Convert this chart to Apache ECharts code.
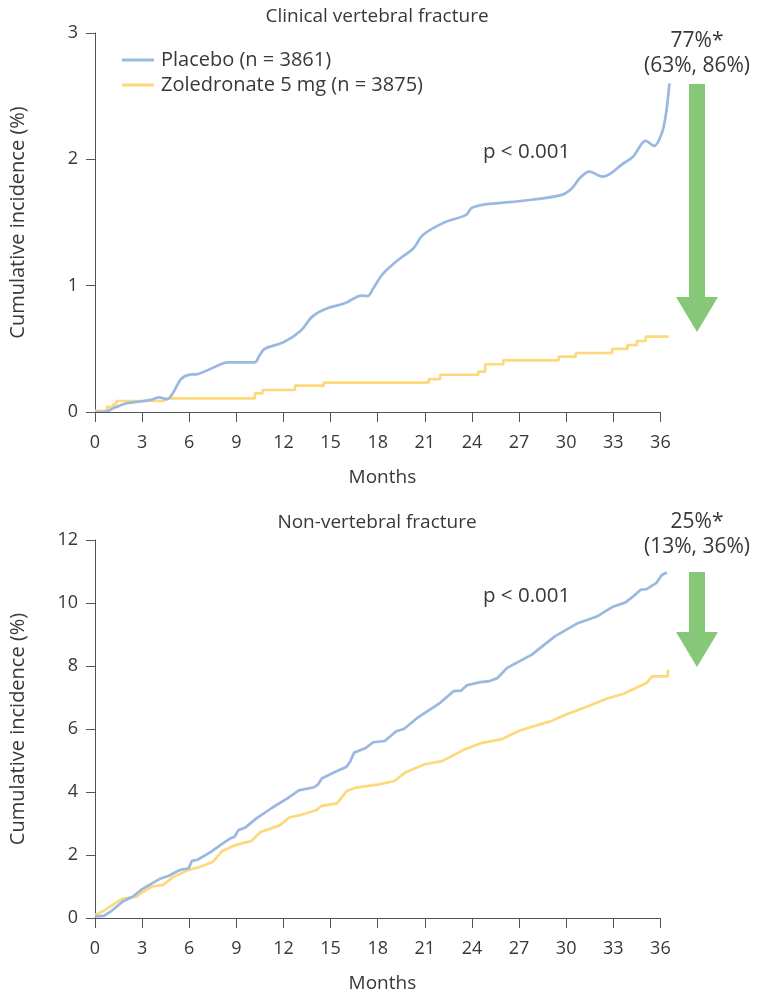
<!DOCTYPE html>
<html><head><meta charset="utf-8">
<script src="https://cdn.jsdelivr.net/npm/echarts@6/dist/echarts.min.js"></script>
<style>html,body{margin:0;padding:0;background:#fff}#c{width:757px;height:994px}</style>
</head><body><div id="c"></div>
<script>
// ---- Data (months, cumulative incidence %) ----
const xTicks = [0,3,6,9,12,15,18,21,24,27,30,33,36];
const vertPlaceboX = [0,0.57,1.3,2.03,3.0,3.61,4.1,4.58,4.95,5.48,6.04,6.53,7.38,8.48,10.18,10.43,10.79,12.0,13.1,13.83,14.68,15.9,17.0,17.36,17.72,18.33,19.3,20.28,20.88,22.22,23.63,23.93,24.17,24.65,27.82,29.77,30.37,30.86,31.47,32.32,33.66,34.27,35.07,35.6,36.09,36.33,36.58];
const vertPlaceboY = [0,0.0,0.037,0.069,0.085,0.098,0.116,0.10,0.148,0.261,0.296,0.30,0.343,0.393,0.393,0.438,0.499,0.552,0.644,0.755,0.816,0.86,0.921,0.918,0.979,1.093,1.203,1.296,1.401,1.499,1.56,1.61,1.625,1.64,1.68,1.721,1.771,1.85,1.903,1.863,1.969,2.022,2.146,2.106,2.206,2.338,2.602];
const vertZolX = [0,0.76,1.18,1.37,4.4,10.18,10.67,12.73,14.56,21.25,21.98,24.41,24.85,26.0,29.52,30.62,32.93,33.9,34.5,35.07,36.53];
const vertZolY = [0.01,0.04,0.063,0.087,0.108,0.148,0.174,0.208,0.232,0.261,0.295,0.319,0.378,0.409,0.438,0.467,0.499,0.530,0.562,0.597,0.597];
const nonvPlaceboX = [0,0.57,1.06,1.79,2.4,3.0,4.1,4.7,5.44,5.97,6.17,6.53,7.38,8.23,8.6,8.89,9.13,9.57,10.3,11.28,12.25,12.98,13.95,14.2,14.44,15.17,16.02,16.26,16.5,17.24,17.72,18.45,19.18,19.67,20.52,21.98,22.83,23.32,23.68,24.53,25.14,25.63,26.24,27.82,29.28,30.74,31.95,32.93,33.78,34.27,34.75,35.12,35.73,36.09,36.41];
const nonvPlaceboY = [0.053,0.07,0.23,0.53,0.675,0.918,1.235,1.34,1.53,1.58,1.815,1.85,2.1,2.4,2.52,2.58,2.79,2.87,3.17,3.5,3.8,4.05,4.15,4.24,4.43,4.61,4.8,4.98,5.25,5.4,5.58,5.62,5.93,6.0,6.35,6.83,7.2,7.22,7.39,7.49,7.52,7.62,7.94,8.36,8.94,9.36,9.57,9.87,10.02,10.21,10.42,10.44,10.63,10.89,10.97];
const nonvZolX = [0,0.57,1.3,1.79,2.64,3.0,3.61,4.34,4.95,5.92,6.65,7.5,8.11,8.84,9.33,9.94,10.55,11.76,12.37,13.1,14.07,14.44,15.41,16.02,16.63,18.09,19.06,19.79,21.0,22.1,23.44,24.65,25.87,27.09,29.03,30.0,31.47,32.56,33.66,35.12,35.48,36.45,36.5];
const nonvZolY = [0.095,0.23,0.475,0.62,0.68,0.81,1.0,1.05,1.29,1.52,1.62,1.78,2.13,2.29,2.37,2.44,2.73,2.94,3.19,3.27,3.42,3.56,3.64,4.03,4.14,4.24,4.35,4.63,4.88,4.98,5.33,5.56,5.67,5.96,6.25,6.46,6.74,6.96,7.12,7.46,7.67,7.67,7.88];
const seriesNames = ['Placebo (n = 3861)', 'Zoledronate 5 mg (n = 3875)'];
const titles = ['Clinical vertebral fracture', 'Non-vertebral fracture'];
const pTexts = ['p < 0.001', 'p < 0.001'];
const effects = [['77%*', '(63%, 86%)'], ['25%*', '(13%, 36%)']];

const zip = (xs, ys) => xs.map((x, i) => [x, ys[i]]);
const FONT = 'Open Sans';
const BLUE = '#9bb8e2', YELLOW = '#fdd97c', GREEN = '#86c878', TXT = '#383838', AX = '#555';
const X_LAST = xTicks[xTicks.length - 1];
const X_EXT = 36.6; // curves run slightly past the last tick

const chart = echarts.init(document.getElementById('c'), null, {renderer: 'canvas'});

function xAx(gi) {
  return {gridIndex: gi, type: 'value', min: 0, max: X_EXT,
    name: 'Months', nameLocation: 'middle', nameGap: 56,
    nameTextStyle: {fontFamily: FONT, fontSize: 19, color: TXT},
    axisLine: {show: false},
    axisTick: {show: true, length: 10, customValues: xTicks, lineStyle: {color: AX}},
    axisLabel: {fontFamily: FONT, fontSize: 18, color: TXT, margin: 22, customValues: xTicks},
    splitLine: {show: false}};
}
function yAx(gi, max, interval) {
  return {gridIndex: gi, type: 'value', min: 0, max: max, interval: interval,
    name: 'Cumulative incidence (%)', nameLocation: 'middle', nameGap: 67,
    nameTextStyle: {fontFamily: FONT, fontSize: 20, color: TXT},
    axisLine: {show: true, lineStyle: {color: AX, width: 1}},
    axisTick: {show: true, length: 9, lineStyle: {color: AX}},
    axisLabel: {fontFamily: FONT, fontSize: 18, color: TXT, margin: 17},
    splitLine: {show: false}};
}
function arrow(top, shaftEnd, headEnd) {
  return [
    {type: 'rect', shape: {x: 689, y: top, width: 16, height: shaftEnd - top}, style: {fill: GREEN}},
    {type: 'polygon', shape: {points: [[676, shaftEnd], [718, shaftEnd], [697, headEnd]]}, style: {fill: GREEN}}
  ];
}
function txt(x, y, s, size, align) {
  return {type: 'text', x: x, y: y, style: {text: s, fontFamily: FONT, fontSize: size, fill: TXT, align: align || 'center', verticalAlign: 'middle'}};
}
const baseLine = {
  silent: true, symbol: ['none', 'none'], animation: false,
  label: {show: false}, lineStyle: {color: AX, width: 1, type: 'solid'},
  data: [[{coord: [0, 0]}, {coord: [X_LAST, 0]}]]
};

const lineBase = {type: 'line', showSymbol: false, symbol: 'none'};

chart.setOption({
  animation: false,
  textStyle: {fontFamily: FONT},
  grid: [
    {left: 94, width: 575.8, top: 33, height: 379},
    {left: 94, width: 575.8, top: 540, height: 379}
  ],
  xAxis: [xAx(0), xAx(1)],
  yAxis: [yAx(0, 3, 1), yAx(1, 12, 2)],
  legend: {orient: 'vertical', left: 117, top: 45, itemWidth: 32, itemHeight: 3, itemGap: 5, icon: 'rect',
    data: seriesNames, textStyle: {fontFamily: FONT, fontSize: 20, color: TXT, padding: [0, 0, 0, 2]}},
  series: [
    Object.assign({}, lineBase, {name: seriesNames[1], xAxisIndex: 0, yAxisIndex: 0, step: 'end', z: 2,
      data: zip(vertZolX, vertZolY), itemStyle: {color: YELLOW}, lineStyle: {width: 2.7, color: YELLOW},
      markLine: baseLine}),
    Object.assign({}, lineBase, {name: seriesNames[0], xAxisIndex: 0, yAxisIndex: 0, smooth: 0.35, z: 3,
      data: zip(vertPlaceboX, vertPlaceboY), itemStyle: {color: BLUE}, lineStyle: {width: 2.7, color: BLUE}}),
    Object.assign({}, lineBase, {name: seriesNames[1], xAxisIndex: 1, yAxisIndex: 1, z: 2,
      data: zip(nonvZolX, nonvZolY), itemStyle: {color: YELLOW}, lineStyle: {width: 2.7, color: YELLOW},
      markLine: baseLine}),
    Object.assign({}, lineBase, {name: seriesNames[0], xAxisIndex: 1, yAxisIndex: 1, z: 3,
      data: zip(nonvPlaceboX, nonvPlaceboY), itemStyle: {color: BLUE}, lineStyle: {width: 2.7, color: BLUE}})
  ],
  graphic: [
    txt(377, 17, titles[0], 19), txt(377, 523, titles[1], 19),
    txt(483, 152, pTexts[0], 20.5, 'left'), txt(483, 596, pTexts[1], 20.5, 'left'),
    txt(697, 41, effects[0][0], 21), txt(697, 66, effects[0][1], 21),
    txt(697, 522, effects[1][0], 21), txt(697, 547, effects[1][1], 21)
  ].concat(arrow(84, 297, 332), arrow(572, 632, 667))
});
</script></body></html>
